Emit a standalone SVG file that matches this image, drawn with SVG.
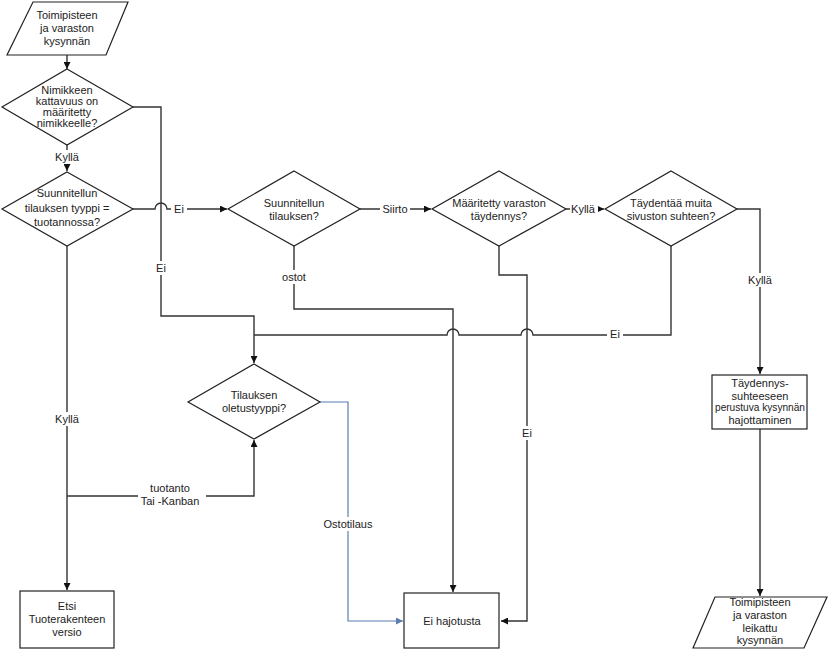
<svg xmlns="http://www.w3.org/2000/svg" width="828" height="649" viewBox="0 0 828 649">
<defs>
<marker id="ar" viewBox="0 0 10 10" refX="10" refY="5" markerWidth="7" markerHeight="7" markerUnits="userSpaceOnUse" orient="auto"><path d="M0,0 L10,5 L0,10 z" fill="#111"/></marker>
<marker id="arb" viewBox="0 0 10 10" refX="10" refY="5" markerWidth="7" markerHeight="7" markerUnits="userSpaceOnUse" orient="auto"><path d="M0,0 L10,5 L0,10 z" fill="#5b7db1"/></marker>
</defs>
<style>
.s{fill:#fff;stroke:#222;stroke-width:1.2}
.c{fill:none;stroke:#333;stroke-width:1.4}
.b{fill:none;stroke:#5b7db1;stroke-width:1.2}
text{font-family:"Liberation Sans",Arial,sans-serif;font-size:11px;fill:#222;text-anchor:middle}
.lb{fill:#fff}
</style>
<rect width="828" height="649" fill="#fff"/>
<g id="connectors">
<path class="c" d="M67,55 V69" marker-end="url(#ar)"/>
<path class="c" d="M67,145 V171" marker-end="url(#ar)"/>
<path class="c" d="M133,107 H161 V316 H254 V363" marker-end="url(#ar)"/>
<path class="c" d="M133,209 H155 A6,6 0 0 1 167,209 H227" marker-end="url(#ar)"/>
<path class="c" d="M360,209 H431" marker-end="url(#ar)"/>
<path class="c" d="M294,246 V309 H453 V592" marker-end="url(#ar)"/>
<path class="c" d="M566,209 H604" marker-end="url(#ar)"/>
<path class="c" d="M499,246 V275 H527 V621 H501" marker-end="url(#ar)"/>
<path class="c" d="M737,209 H760 V374" marker-end="url(#ar)"/>
<path class="c" d="M671,246 V335 H533 A6,6 0 0 0 521,335 H459 A6,6 0 0 0 447,335 H254"/>
<path class="c" d="M67,246 V590" marker-end="url(#ar)"/>
<path class="c" d="M67,496 H254 V440" marker-end="url(#ar)"/>
<path class="b" d="M320,402 H348 V621 H403" marker-end="url(#arb)"/>
<path class="c" d="M760,429 V596" marker-end="url(#ar)"/>
<rect class="lb" x="55" y="150" width="24" height="14"/>
<text x="67" y="161">Kyllä</text>
<rect class="lb" x="171" y="202" width="16" height="14"/>
<text x="179" y="213">Ei</text>
<rect class="lb" x="154" y="261" width="14" height="14"/>
<text x="161" y="272">Ei</text>
<rect class="lb" x="380" y="202" width="30" height="14"/>
<text x="395" y="213">Siirto</text>
<rect class="lb" x="280" y="270" width="28" height="14"/>
<text x="294" y="281">ostot</text>
<rect class="lb" x="570" y="202" width="28" height="14"/>
<text x="583" y="213">Kyllä</text>
<rect class="lb" x="746" y="273" width="28" height="14"/>
<text x="760" y="284">Kyllä</text>
<rect class="lb" x="607" y="328" width="16" height="14"/>
<text x="615" y="338">Ei</text>
<rect class="lb" x="520" y="426" width="14" height="14"/>
<text x="527" y="437">Ei</text>
<rect class="lb" x="53" y="412" width="28" height="14"/>
<text x="67" y="423">Kyllä</text>
<rect class="lb" x="138" y="481" width="68" height="26"/>
<text x="170" y="492">tuotanto</text>
<text x="170" y="505">Tai -Kanban</text>
<rect class="lb" x="322" y="517" width="52" height="14"/>
<text x="348" y="528">Ostotilaus</text>
</g>
<g id="start">
<polygon class="s" points="33,2 128,2 106,55 7,55"/>
<text x="67" y="19">Toimipisteen</text>
<text x="67" y="32">ja varaston</text>
<text x="67" y="45">kysynnän</text>
</g>
<g id="d1">
<polygon class="s" points="67,69 133,107 67,145 2,107"/>
<text x="67" y="94">Nimikkeen</text>
<text x="67" y="105">kattavuus on</text>
<text x="67" y="116">määritetty</text>
<text x="67" y="127">nimikkeelle?</text>
</g>
<g id="d2">
<polygon class="s" points="67,172 133,209 67,246 2,209"/>
<text x="67" y="197">Suunnitellun</text>
<text x="67" y="212">tilauksen tyyppi =</text>
<text x="67" y="226">tuotannossa?</text>
</g>
<g id="d3">
<polygon class="s" points="294,171 360,209 294,246 228,209"/>
<text x="294" y="207">Suunnitellun</text>
<text x="294" y="220">tilauksen?</text>
</g>
<g id="d4">
<polygon class="s" points="499,171 566,209 499,246 432,209"/>
<text x="499" y="207">Määritetty varaston</text>
<text x="499" y="220">täydennys?</text>
</g>
<g id="d5">
<polygon class="s" points="671,171 737,209 671,246 605,209"/>
<text x="671" y="207">Täydentää muita</text>
<text x="671" y="220">sivuston suhteen?</text>
</g>
<g id="d6">
<polygon class="s" points="254,364 320,402 254,439 188,402"/>
<text x="254" y="399">Tilauksen</text>
<text x="254" y="412">oletustyyppi?</text>
</g>
<g id="etsi">
<rect class="s" x="20" y="591" width="94" height="57"/>
<text x="67" y="610">Etsi</text>
<text x="67" y="623">Tuoterakenteen</text>
<text x="67" y="636">versio</text>
</g>
<g id="eihajotusta">
<rect class="s" x="404" y="593" width="95" height="55"/>
<text x="452" y="625">Ei hajotusta</text>
</g>
<g id="taydennys">
<rect class="s" x="712" y="375" width="95" height="54"/>
<text x="760" y="387">Täydennys-</text>
<text x="760" y="400">suhteeseen</text>
<text x="760" y="411" textLength="90" lengthAdjust="spacingAndGlyphs">perustuva kysynnän</text>
<text x="760" y="424">hajottaminen</text>
</g>
<g id="end">
<polygon class="s" points="715,597 827,597 804,648 693,648"/>
<text x="760" y="606">Toimipisteen</text>
<text x="760" y="619">ja varaston</text>
<text x="760" y="632">leikattu</text>
<text x="760" y="644">kysynnän</text>
</g>
</svg>
